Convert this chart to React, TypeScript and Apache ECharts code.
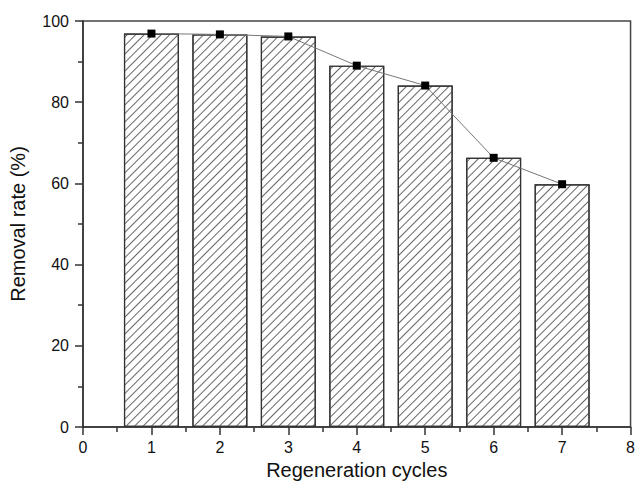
import React, { useEffect, useRef } from "react";
import * as echarts from "echarts";

const cycles = [1, 2, 3, 4, 5, 6, 7];
const removalRate = [96.9, 96.7, 96.2, 89.0, 84.1, 66.3, 59.8];
const xTicks = [0, 1, 2, 3, 4, 5, 6, 7, 8];
const yTicks = [0, 20, 40, 60, 80, 100];

export default function App() {
  const ref = useRef<HTMLDivElement>(null);
  useEffect(() => {
    if (!ref.current) return;
    const chart = echarts.init(ref.current, null, { renderer: "svg" });
    const pts = cycles.map((c, i) => [c, removalRate[i]]);
    const font = "Liberation Sans, Arial, sans-serif";
    chart.setOption({
      animation: false,
      backgroundColor: "#fff",
      grid: {
        left: 82,
        top: 21,
        right: 2,
        bottom: 60,
        show: true,
        borderColor: "#444",
        borderWidth: 1.5,
        backgroundColor: "transparent",
      },
      xAxis: {
        type: "value",
        min: xTicks[0],
        max: xTicks[xTicks.length - 1],
        interval: 1,
        name: "Regeneration cycles",
        nameLocation: "middle",
        nameGap: 33,
        nameTextStyle: { fontFamily: font, fontSize: 20, color: "#111" },
        splitLine: { show: false },
        axisLine: { lineStyle: { color: "#333", width: 1.5 } },
        axisTick: { inside: false, length: 8, lineStyle: { color: "#333", width: 1.5 } },
        minorTick: { show: true, splitNumber: 2, length: 5, lineStyle: { color: "#333", width: 1.5 } },
        axisLabel: { fontFamily: font, fontSize: 16, color: "#111", margin: 12 },
      },
      yAxis: {
        type: "value",
        min: yTicks[0],
        max: yTicks[yTicks.length - 1],
        interval: 20,
        name: "Removal rate (%)",
        nameLocation: "middle",
        nameGap: 55,
        nameTextStyle: { fontFamily: font, fontSize: 20, color: "#111" },
        splitLine: { show: false },
        axisLine: { show: true, lineStyle: { color: "#333", width: 1.5 } },
        axisTick: { show: true, inside: false, length: 8, lineStyle: { color: "#333", width: 1.5 } },
        minorTick: { show: true, splitNumber: 2, length: 5, lineStyle: { color: "#333", width: 1.5 } },
        axisLabel: { fontFamily: font, fontSize: 16, color: "#111", margin: 14 },
      },
      series: [
        {
          type: "bar",
          data: pts,
          barWidth: 55,
          itemStyle: {
            color: "#fff",
            borderColor: "#333",
            borderWidth: 1.2,
            decal: {
              symbol: "rect",
              symbolSize: 1,
              color: "#666",
              backgroundColor: "#fff",
              dashArrayX: [1, 0],
              dashArrayY: [1, 5],
              rotation: -Math.PI / 4,
            },
          },
        },
        {
          type: "line",
          data: pts,
          symbol: "rect",
          symbolSize: 8,
          z: 5,
          lineStyle: { color: "#777", width: 1 },
          itemStyle: { color: "#000" },
        },
      ],
    });
    return () => chart.dispose();
  }, []);
  return <div ref={ref} style={{ width: 638, height: 487, position: "absolute", left: 0, top: 0 }} />;
}
